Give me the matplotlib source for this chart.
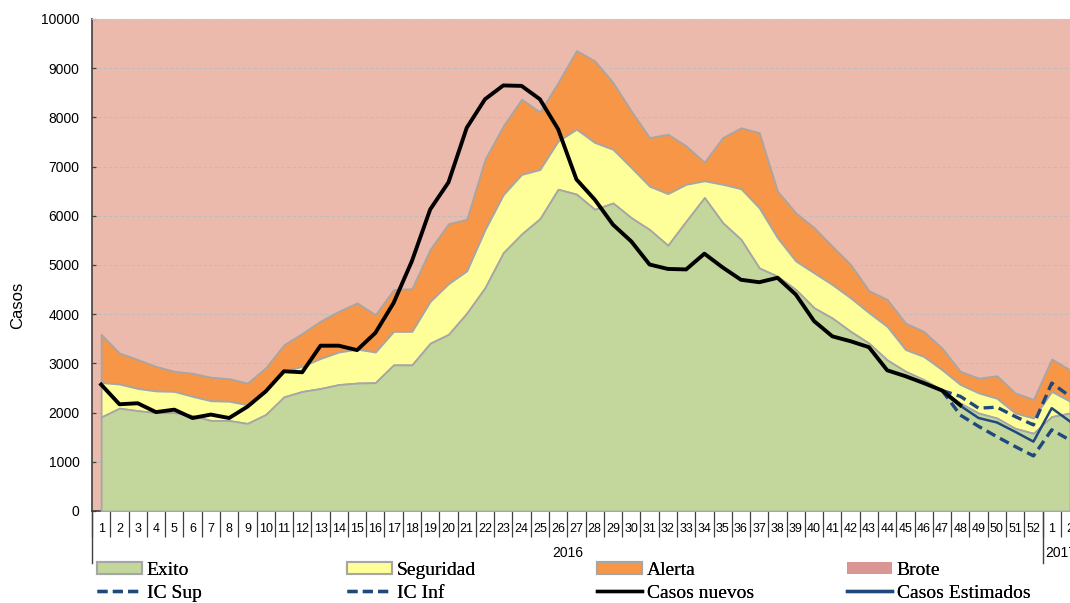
import numpy as np
import matplotlib.pyplot as plt
from matplotlib.patches import Patch
from matplotlib.lines import Line2D

# week labels: 2016 weeks 1-52, then 2017 weeks 1-2
semanas = [str(i) for i in range(1, 53)] + ['1', '2']

# upper limits of the epidemic channel zones
exito = [1910, 2090, 2040, 2000, 2000, 1940, 1840, 1840, 1780, 1960,
         2320, 2430, 2490, 2570, 2600, 2610, 2970, 2970, 3410, 3590,
         4020, 4540, 5250, 5630, 5940, 6540, 6440, 6130, 6260, 5960,
         5720, 5400, 5890, 6370, 5860, 5520, 4940, 4770, 4500, 4130,
         3920, 3650, 3410, 3070, 2840, 2670, 2460, 2190, 1990, 1890,
         1680, 1580, 1920, 1990]
seguridad = [2610, 2580, 2490, 2440, 2430, 2330, 2240, 2230, 2160, 2460,
             2840, 2940, 3100, 3230, 3290, 3230, 3650, 3650, 4260, 4620,
             4880, 5720, 6430, 6840, 6940, 7520, 7760, 7490, 7350, 6980,
             6600, 6450, 6640, 6710, 6640, 6550, 6160, 5550, 5080, 4840,
             4600, 4330, 4030, 3750, 3280, 3140, 2870, 2570, 2400, 2290,
             1990, 1890, 2430, 2230]
alerta = [3590, 3210, 3080, 2940, 2840, 2800, 2720, 2690, 2600, 2910,
          3380, 3610, 3860, 4060, 4230, 3990, 4500, 4520, 5320, 5840,
          5930, 7150, 7830, 8370, 8110, 8710, 9360, 9150, 8710, 8130,
          7590, 7660, 7420, 7090, 7590, 7790, 7690, 6500, 6060, 5760,
          5380, 5010, 4480, 4300, 3820, 3650, 3310, 2840, 2700, 2750,
          2400, 2270, 3090, 2870]

# observed cases, weeks 1-48 of 2016
casos_nuevos = [2570, 2170, 2190, 2010, 2060, 1890, 1960, 1890, 2120, 2430,
                2840, 2820, 3360, 3360, 3270, 3620, 4230, 5080, 6130, 6680,
                7790, 8370, 8650, 8640, 8370, 7760, 6740, 6330, 5820, 5480,
                5010, 4920, 4910, 5230, 4950, 4700, 4650, 4740, 4400, 3860,
                3550, 3450, 3330, 2860, 2740, 2600, 2450, 2150]

# estimates from week 47 of 2016 to week 2 of 2017
casos_estimados = [2450, 2140, 1890, 1800, 1610, 1410, 2090, 1820]
ic_sup = [2450, 2330, 2090, 2110, 1920, 1750, 2600, 2330]
ic_inf = [2450, 1950, 1720, 1510, 1310, 1120, 1650, 1440]

x = np.arange(len(semanas))
x_nuevos = np.arange(len(casos_nuevos))
x_est = np.arange(46, 46 + len(casos_estimados))

c_exito = '#C3D69B'
c_seg = '#FFFF99'
c_alerta = '#F79646'
c_brote = '#D99694'
c_fondo = '#ECBAAD'
c_borde = '#A6A6A6'
c_azul = '#1F497D'

fig = plt.figure(figsize=(10.7, 6.03), dpi=100)
ax = fig.add_axes([92 / 1070, 92 / 603, 978 / 1070, 492 / 603])
ax.set_facecolor(c_fondo)

ax.fill_between(x, 0, exito, facecolor=c_exito, edgecolor=c_borde, lw=1.3, zorder=3)
ax.fill_between(x, exito, seguridad, facecolor=c_seg, edgecolor=c_borde, lw=1.3, zorder=2)
ax.fill_between(x, seguridad, alerta, facecolor=c_alerta, edgecolor=c_borde, lw=1.3, zorder=1.5)

ax.plot(x_nuevos, casos_nuevos, color='black', lw=2.8, zorder=6, solid_joinstyle='round')
ax.plot(x_est, casos_estimados, color=c_azul, lw=1.8, zorder=5)
ax.plot(x_est, ic_sup, color=c_azul, lw=2.4, dashes=(3, 1.6), zorder=5)
ax.plot(x_est, ic_inf, color=c_azul, lw=2.4, dashes=(3, 1.6), zorder=5)

ax.set_ylim(0, 10000)
ax.set_xlim(-0.5, 53.0)
ax.set_yticks(np.arange(0, 10001, 1000))
ax.yaxis.grid(True, linestyle=(0, (3, 2)), color='#BDBDBD', lw=0.8, zorder=0.5)
ax.set_axisbelow(True)

ax.set_xticks(x)
ax.set_xticklabels(semanas, fontsize=9, family='Liberation Sans')
ax.set_xticks(np.arange(-0.5, 53, 1), minor=True)
ax.tick_params(axis='x', which='major', length=0, pad=9)
ax.tick_params(axis='x', which='minor', length=19, width=0.9, color='#404040', direction='out')
ax.tick_params(axis='y', length=3, width=0.9, direction='in', color='#404040', pad=9)
for lbl in ax.get_yticklabels():
    lbl.set_family('Liberation Sans')
    lbl.set_fontsize(10)

ax.spines['right'].set_visible(False)
ax.spines['top'].set_color('#C8C8C8')
ax.spines['top'].set_linewidth(0.8)
ax.spines['left'].set_color('#404040')
ax.spines['bottom'].set_color('#404040')
ax.spines['left'].set_linewidth(1.2)
ax.spines['bottom'].set_linewidth(1.2)

# year separators and labels (2017 is cut by the right edge, as in the source)
trans = ax.get_xaxis_transform()
for xs in [-0.5, 51.5]:
    ax.plot([xs, xs], [0, -0.106], transform=trans, color='#404040', lw=1.0, clip_on=False)
ax.text(25.5, -0.085, '2016', transform=trans, ha='center', va='center',
        fontsize=10, family='Liberation Sans')
ax.text(52.5, -0.085, '2017', transform=trans, ha='center', va='center',
        fontsize=10, family='Liberation Sans', clip_on=False)

ax.set_ylabel('Casos', fontsize=12, family='Liberation Sans')
ax.yaxis.set_label_coords(-0.068, 0.417)

# legend, four columns of two entries
def patch(c, ec=c_borde):
    return Patch(facecolor=c, edgecolor=ec, lw=1.5)

col_items = [
    [(patch(c_exito), 'Exito'), (Line2D([], [], color=c_azul, lw=2.4, dashes=(3, 1.6)), 'IC Sup')],
    [(patch(c_seg), 'Seguridad'), (Line2D([], [], color=c_azul, lw=2.4, dashes=(3, 1.6)), 'IC Inf')],
    [(patch(c_alerta), 'Alerta'), (Line2D([], [], color='black', lw=2.4), 'Casos nuevos')],
    [(patch(c_brote, 'none'), 'Brote'), (Line2D([], [], color=c_azul, lw=2.4), 'Casos Estimados')],
]
for k, items in enumerate(col_items):
    leg = fig.legend([h for h, _ in items], [t for _, t in items],
                     loc='upper left', bbox_to_anchor=((97 + 250 * k) / 1070, 1 - 562 / 603),
                     frameon=False, borderpad=0, borderaxespad=0,
                     handlelength=2.3, handleheight=0.55, handletextpad=0.25,
                     labelspacing=0.3,
                     prop={'family': 'Liberation Serif', 'size': 14})
    fig.add_artist(leg)

fig.savefig('out.png', dpi=100)
